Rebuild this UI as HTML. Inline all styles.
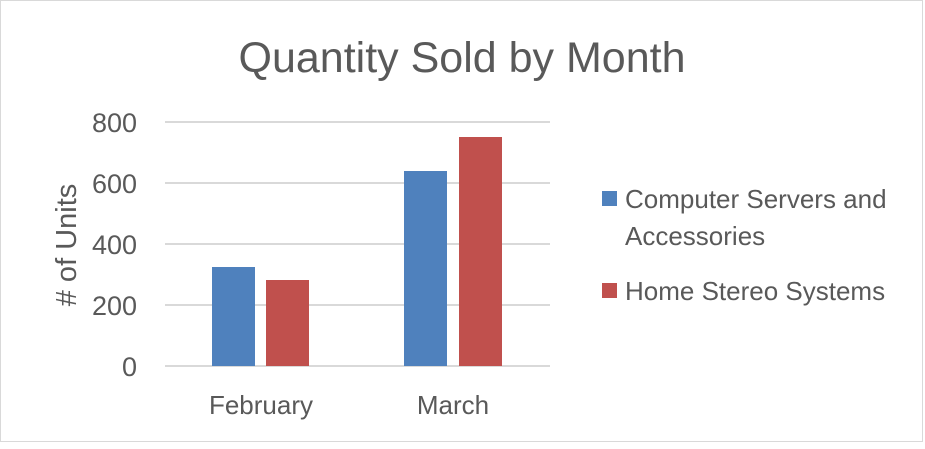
<!DOCTYPE html>
<html><head><style>
body{margin:0;background:#fff;}
svg text{font-family:"Liberation Sans",sans-serif;fill:#595959;}
</style></head><body>
<svg width="925" height="444" viewBox="0 0 925 444">
<rect x="0.5" y="0.5" width="922" height="441" fill="#fff" stroke="#d9d9d9"/>
<text x="462" y="72" font-size="43" text-anchor="middle">Quantity Sold by Month</text>
<g stroke="#d9d9d9" stroke-width="2">
<line x1="165" y1="122" x2="550" y2="122"/>
<line x1="165" y1="183" x2="550" y2="183"/>
<line x1="165" y1="244" x2="550" y2="244"/>
<line x1="165" y1="305" x2="550" y2="305"/>
<line x1="165" y1="366" x2="550" y2="366"/>
</g>
<g font-size="27" text-anchor="end">
<text x="137" y="132">800</text>
<text x="137" y="193">600</text>
<text x="137" y="254">400</text>
<text x="137" y="315">200</text>
<text x="137" y="376">0</text>
</g>
<text transform="translate(76,245) rotate(-90)" font-size="29" text-anchor="middle">
# of Units</text>
<rect x="212" y="267" width="43" height="99" fill="#4f81bd"/>
<rect x="266" y="280" width="43" height="86" fill="#c0504d"/>
<rect x="404" y="171" width="43" height="195" fill="#4f81bd"/>
<rect x="459" y="137" width="43" height="229" fill="#c0504d"/>
<g font-size="26" text-anchor="middle">
<text x="261" y="414">February</text>
<text x="453" y="414">March</text>
</g>
<rect x="602" y="191" width="15" height="15" fill="#4f81bd"/>
<rect x="602" y="283" width="15" height="15" fill="#c0504d"/>
<g font-size="26">
<text x="625" y="208">Computer Servers and</text>
<text x="625" y="245">Accessories</text>
<text x="625" y="300">Home Stereo Systems</text>
</g>
</svg>
</body></html>
